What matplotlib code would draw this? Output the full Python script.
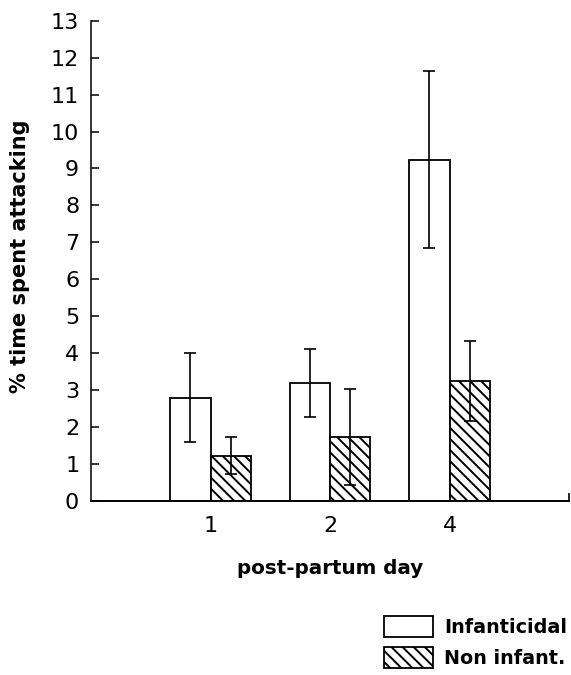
#! /usr/bin/env python
# -*- coding: utf-8 -*-

import matplotlib
matplotlib.use("Agg")
import matplotlib.pyplot as plt
import numpy as np

# data
days = ["1", "2", "4"]
infanticidal = [2.8, 3.2, 9.24]
infanticidal_err = [1.2, 0.92, 2.4]
non_infant = [1.22, 1.74, 3.25]
non_infant_err = [0.5, 1.3, 1.08]
series_names = ["Infanticidal", "Non infant."]

plt.rcParams["font.family"] = "DejaVu Sans"
plt.rcParams["hatch.linewidth"] = 1.4
plt.rcParams["hatch.color"] = "black"

fig = plt.figure(figsize=(5.71, 6.75), dpi=100)
ax = fig.add_axes([91 / 571, 174 / 675, 478 / 571, 480.3 / 675])

x = np.arange(1, len(days) + 1)
w = 0.335

# bars with error bars at the bar centre
ax.bar(x - w / 2, infanticidal, w, color="white", edgecolor="black",
       linewidth=1.3, label=series_names[0], zorder=2)
ax.bar(x + w / 2, non_infant, w, color="white", edgecolor="black",
       linewidth=1.3, hatch="\\\\\\", label=series_names[1], zorder=2)
ax.errorbar(x - w / 2, infanticidal, yerr=infanticidal_err, fmt="none",
            ecolor="black", elinewidth=1.2, capsize=4, capthick=1.2, zorder=3)
ax.errorbar(x + w / 2, non_infant, yerr=non_infant_err, fmt="none",
            ecolor="black", elinewidth=1.2, capsize=4, capthick=1.2, zorder=3)

# axes look
ax.set_xlim(0, 4)
ax.set_ylim(0, 13)
ax.set_yticks(range(0, 14))
ax.set_xticks(x, days)
ax.set_xticks([4], minor=True)
ax.tick_params(axis="x", which="major", length=0, pad=11, labelsize=16)
ax.tick_params(axis="x", which="minor", direction="in", length=6, width=1.2)
ax.tick_params(axis="y", direction="in", length=6, width=1.1, pad=8.5,
               labelsize=16)
for side in ["top", "right"]:
    ax.spines[side].set_visible(False)
ax.spines["left"].set_linewidth(1.1)
ax.spines["bottom"].set_linewidth(1.4)

ax.set_xlabel("post-partum day", fontsize=14.3, fontweight="bold")
ax.xaxis.label.set_va("center")
ax.xaxis.set_label_coords(0.5, -0.1395)
ax.set_ylabel("% time spent attacking", fontsize=15, fontweight="bold")
ax.yaxis.label.set_va("center")
ax.yaxis.set_label_coords(-0.1485, 0.509)

fs = 13.8 * 100 / 72
fig.legend(loc="upper left", bbox_to_anchor=(384 / 571, 1 - 616 / 675),
           frameon=False, borderpad=0, borderaxespad=0,
           prop={"size": 13.8, "weight": "bold"},
           handlelength=49 / fs, handleheight=25 / fs,
           handletextpad=11 / fs, labelspacing=10 / fs)

fig.savefig("out.png", dpi=100)
